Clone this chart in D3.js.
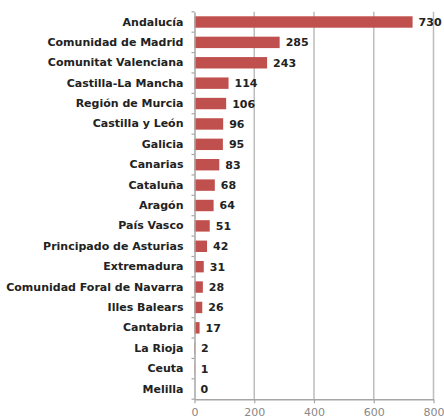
<!DOCTYPE html>
<html><head><meta charset="utf-8">
<script src="https://cdn.jsdelivr.net/npm/d3@7"></script>
<style>
body{margin:0;background:#fff;}
svg{display:block;}
</style></head>
<body>
<svg id="chart" width="444" height="420"></svg>
<script>
const categories = ["Andalucía","Comunidad de Madrid","Comunitat Valenciana","Castilla-La Mancha","Región de Murcia","Castilla y León","Galicia","Canarias","Cataluña","Aragón","País Vasco","Principado de Asturias","Extremadura","Comunidad Foral de Navarra","Illes Balears","Cantabria","La Rioja","Ceuta","Melilla"];
const values = [730,285,243,114,106,96,95,83,68,64,51,42,31,28,26,17,2,1,0];
const xTicks = [0,200,400,600,800];

const svg = d3.select("#chart");
const mLeft = 194.5, mRight = 433.5, mTop = 11.8, mBottom = 399.2;
const x = d3.scaleLinear().domain([0,800]).range([mLeft,mRight]);
const y = d3.scaleBand().domain(categories).range([mTop,mBottom]).paddingInner(0.44).paddingOuter(0.22);

// gridlines
svg.append("g").selectAll("line").data(xTicks.slice(1)).join("line")
  .attr("x1",d=>x(d)).attr("x2",d=>x(d)).attr("y1",mTop).attr("y2",mBottom)
  .attr("stroke","#bdbdbd").attr("stroke-width",1.5);

// bars
svg.append("g").selectAll("rect").data(values).join("rect")
  .attr("x",x(0)).attr("y",(d,i)=>y(categories[i]))
  .attr("width",d=>x(d)-x(0)).attr("height",y.bandwidth())
  .attr("fill","#c0504d");

// value labels
svg.append("g").selectAll("text").data(values).join("text")
  .attr("x",d=>x(d)+6).attr("y",(d,i)=>y(categories[i])+y.bandwidth()/2)
  .attr("dy","0.36em").text(d=>d)
  .attr("font-family","DejaVu Sans").attr("font-weight","bold").attr("font-size","11px").attr("fill","#222");

// y axis
const yAxis = d3.axisLeft(y).tickSize(0).tickPadding(11);
const gy = svg.append("g").attr("transform",`translate(${mLeft},0)`).call(yAxis);
gy.select(".domain").attr("stroke","#a6a6a6").attr("stroke-width",1.5);
gy.selectAll("text").attr("font-family","DejaVu Sans").attr("font-weight","bold").attr("font-size","11px").attr("fill","#222");
// band boundary ticks
const bounds = d3.range(categories.length+1).map(i=>mTop+i*(mBottom-mTop)/categories.length);
svg.append("g").selectAll("line").data(bounds).join("line")
  .attr("x1",mLeft-3).attr("x2",mLeft).attr("y1",d=>d).attr("y2",d=>d)
  .attr("stroke","#a6a6a6").attr("stroke-width",1.2);

// x axis
const xAxis = d3.axisBottom(x).tickValues(xTicks).tickSize(4).tickPadding(5).tickSizeOuter(0);
const gx = svg.append("g").attr("transform",`translate(0,${mBottom})`).call(xAxis);
gx.select(".domain").attr("stroke","#a6a6a6").attr("stroke-width",1.5);
gx.selectAll(".tick line").attr("stroke","#a6a6a6").attr("stroke-width",1.2);
gx.selectAll("text").attr("font-family","DejaVu Sans").attr("font-size","11px").attr("fill","#888");
</script>
</body></html>
